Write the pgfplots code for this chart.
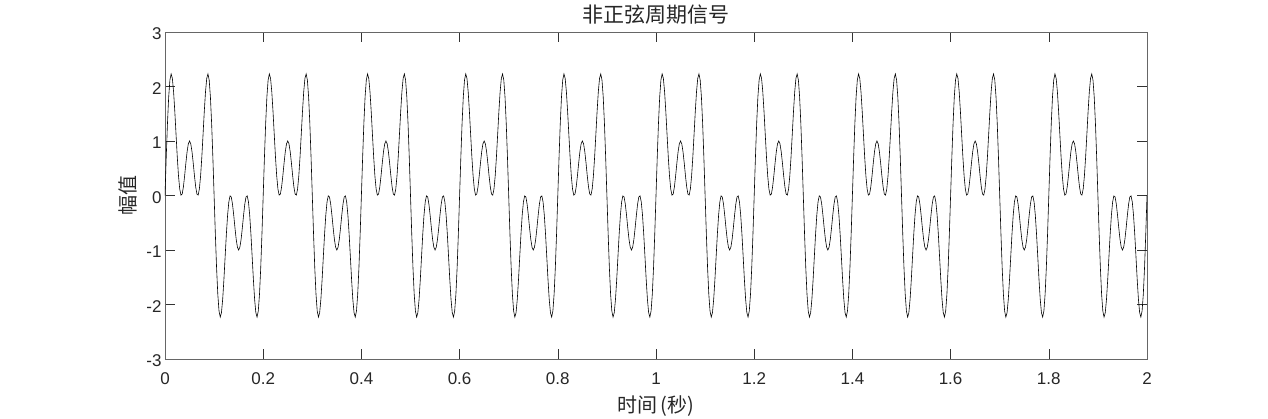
\documentclass[border=0pt]{standalone}
\usepackage{pgfplots}
\pgfplotsset{compat=1.18}
\usepackage{fontspec}
\setmainfont{Liberation Sans}
\newfontfamily\cjk{Noto Sans CJK SC}

\begin{document}
\begin{tikzpicture}
\path[use as bounding box] (-165pt,-59pt) rectangle (1103pt,359pt);
\begin{axis}[
    at={(0,0)}, anchor=south west,
    scale only axis,
    width=982pt, height=327pt,
    xmin=0, xmax=2, ymin=-3, ymax=3,
    xtick={0,0.2,0.4,0.6,0.8,1,1.2,1.4,1.6,1.8,2},
    xticklabels={0,0.2,0.4,0.6,0.8,1,1.2,1.4,1.6,1.8,2},
    ytick={-3,-2,-1,0,1,2,3},
    yticklabels={-3,-2,-1,0,1,2,3},
    tick align=inside,
    major tick length=10pt,
    tick style={black!80, line width=0.6pt},
    axis line style={black!60, line width=0.6pt},
    ticklabel style={font=\fontsize{17}{17}\selectfont, text=black!85},
    xticklabel style={yshift=-10pt},
    yticklabel style={yshift=-2pt},
    /pgf/number format/assume math mode=true,
    title={非正弦周期信号},
    title style={at={(axis description cs:0.5,1)}, anchor=base, yshift=3pt,
        font=\cjk\fontsize{21}{21}\selectfont, text=black!85},
    xlabel={时间\,(秒)},
    xlabel style={at={(axis description cs:0.5,-0.165)}, anchor=base,
        font=\cjk\fontsize{20}{20}\selectfont, text=black!85},
    ylabel={幅值},
    ylabel style={at={(axis description cs:-0.0377,0.5)}, anchor=center,
        font=\cjk\fontsize{20}{20}\selectfont, text=black!85},
]
% sampled signal, step 0.0025 s, one row per half period
\addplot[black, line width=0.6pt] coordinates {
(0.0000,0) (0.0025,0.695) (0.0050,1.318) (0.0075,1.807) (0.0100,2.118) (0.0125,2.231) (0.0150,2.149) (0.0175,1.902) (0.0200,1.539) (0.0225,1.119) (0.0250,0.707) (0.0275,0.359) (0.0300,0.118) (0.0325,0.007) (0.0350,0.027) (0.0375,0.159) (0.0400,0.363) (0.0425,0.595) (0.0450,0.804) (0.0475,0.948)
(0.0500,1) (0.0525,0.948) (0.0550,0.804) (0.0575,0.595) (0.0600,0.363) (0.0625,0.159) (0.0650,0.027) (0.0675,0.007) (0.0700,0.118) (0.0725,0.359) (0.0750,0.707) (0.0775,1.119) (0.0800,1.539) (0.0825,1.902) (0.0850,2.149) (0.0875,2.231) (0.0900,2.118) (0.0925,1.807) (0.0950,1.318) (0.0975,0.695)
(0.1000,0) (0.1025,-0.695) (0.1050,-1.318) (0.1075,-1.807) (0.1100,-2.118) (0.1125,-2.231) (0.1150,-2.149) (0.1175,-1.902) (0.1200,-1.539) (0.1225,-1.119) (0.1250,-0.707) (0.1275,-0.359) (0.1300,-0.118) (0.1325,-0.007) (0.1350,-0.027) (0.1375,-0.159) (0.1400,-0.363) (0.1425,-0.595) (0.1450,-0.804) (0.1475,-0.948)
(0.1500,-1) (0.1525,-0.948) (0.1550,-0.804) (0.1575,-0.595) (0.1600,-0.363) (0.1625,-0.159) (0.1650,-0.027) (0.1675,-0.007) (0.1700,-0.118) (0.1725,-0.359) (0.1750,-0.707) (0.1775,-1.119) (0.1800,-1.539) (0.1825,-1.902) (0.1850,-2.149) (0.1875,-2.231) (0.1900,-2.118) (0.1925,-1.807) (0.1950,-1.318) (0.1975,-0.695)
(0.2000,0) (0.2025,0.695) (0.2050,1.318) (0.2075,1.807) (0.2100,2.118) (0.2125,2.231) (0.2150,2.149) (0.2175,1.902) (0.2200,1.539) (0.2225,1.119) (0.2250,0.707) (0.2275,0.359) (0.2300,0.118) (0.2325,0.007) (0.2350,0.027) (0.2375,0.159) (0.2400,0.363) (0.2425,0.595) (0.2450,0.804) (0.2475,0.948)
(0.2500,1) (0.2525,0.948) (0.2550,0.804) (0.2575,0.595) (0.2600,0.363) (0.2625,0.159) (0.2650,0.027) (0.2675,0.007) (0.2700,0.118) (0.2725,0.359) (0.2750,0.707) (0.2775,1.119) (0.2800,1.539) (0.2825,1.902) (0.2850,2.149) (0.2875,2.231) (0.2900,2.118) (0.2925,1.807) (0.2950,1.318) (0.2975,0.695)
(0.3000,0) (0.3025,-0.695) (0.3050,-1.318) (0.3075,-1.807) (0.3100,-2.118) (0.3125,-2.231) (0.3150,-2.149) (0.3175,-1.902) (0.3200,-1.539) (0.3225,-1.119) (0.3250,-0.707) (0.3275,-0.359) (0.3300,-0.118) (0.3325,-0.007) (0.3350,-0.027) (0.3375,-0.159) (0.3400,-0.363) (0.3425,-0.595) (0.3450,-0.804) (0.3475,-0.948)
(0.3500,-1) (0.3525,-0.948) (0.3550,-0.804) (0.3575,-0.595) (0.3600,-0.363) (0.3625,-0.159) (0.3650,-0.027) (0.3675,-0.007) (0.3700,-0.118) (0.3725,-0.359) (0.3750,-0.707) (0.3775,-1.119) (0.3800,-1.539) (0.3825,-1.902) (0.3850,-2.149) (0.3875,-2.231) (0.3900,-2.118) (0.3925,-1.807) (0.3950,-1.318) (0.3975,-0.695)
(0.4000,0) (0.4025,0.695) (0.4050,1.318) (0.4075,1.807) (0.4100,2.118) (0.4125,2.231) (0.4150,2.149) (0.4175,1.902) (0.4200,1.539) (0.4225,1.119) (0.4250,0.707) (0.4275,0.359) (0.4300,0.118) (0.4325,0.007) (0.4350,0.027) (0.4375,0.159) (0.4400,0.363) (0.4425,0.595) (0.4450,0.804) (0.4475,0.948)
(0.4500,1) (0.4525,0.948) (0.4550,0.804) (0.4575,0.595) (0.4600,0.363) (0.4625,0.159) (0.4650,0.027) (0.4675,0.007) (0.4700,0.118) (0.4725,0.359) (0.4750,0.707) (0.4775,1.119) (0.4800,1.539) (0.4825,1.902) (0.4850,2.149) (0.4875,2.231) (0.4900,2.118) (0.4925,1.807) (0.4950,1.318) (0.4975,0.695)
(0.5000,0) (0.5025,-0.695) (0.5050,-1.318) (0.5075,-1.807) (0.5100,-2.118) (0.5125,-2.231) (0.5150,-2.149) (0.5175,-1.902) (0.5200,-1.539) (0.5225,-1.119) (0.5250,-0.707) (0.5275,-0.359) (0.5300,-0.118) (0.5325,-0.007) (0.5350,-0.027) (0.5375,-0.159) (0.5400,-0.363) (0.5425,-0.595) (0.5450,-0.804) (0.5475,-0.948)
(0.5500,-1) (0.5525,-0.948) (0.5550,-0.804) (0.5575,-0.595) (0.5600,-0.363) (0.5625,-0.159) (0.5650,-0.027) (0.5675,-0.007) (0.5700,-0.118) (0.5725,-0.359) (0.5750,-0.707) (0.5775,-1.119) (0.5800,-1.539) (0.5825,-1.902) (0.5850,-2.149) (0.5875,-2.231) (0.5900,-2.118) (0.5925,-1.807) (0.5950,-1.318) (0.5975,-0.695)
(0.6000,0) (0.6025,0.695) (0.6050,1.318) (0.6075,1.807) (0.6100,2.118) (0.6125,2.231) (0.6150,2.149) (0.6175,1.902) (0.6200,1.539) (0.6225,1.119) (0.6250,0.707) (0.6275,0.359) (0.6300,0.118) (0.6325,0.007) (0.6350,0.027) (0.6375,0.159) (0.6400,0.363) (0.6425,0.595) (0.6450,0.804) (0.6475,0.948)
(0.6500,1) (0.6525,0.948) (0.6550,0.804) (0.6575,0.595) (0.6600,0.363) (0.6625,0.159) (0.6650,0.027) (0.6675,0.007) (0.6700,0.118) (0.6725,0.359) (0.6750,0.707) (0.6775,1.119) (0.6800,1.539) (0.6825,1.902) (0.6850,2.149) (0.6875,2.231) (0.6900,2.118) (0.6925,1.807) (0.6950,1.318) (0.6975,0.695)
(0.7000,0) (0.7025,-0.695) (0.7050,-1.318) (0.7075,-1.807) (0.7100,-2.118) (0.7125,-2.231) (0.7150,-2.149) (0.7175,-1.902) (0.7200,-1.539) (0.7225,-1.119) (0.7250,-0.707) (0.7275,-0.359) (0.7300,-0.118) (0.7325,-0.007) (0.7350,-0.027) (0.7375,-0.159) (0.7400,-0.363) (0.7425,-0.595) (0.7450,-0.804) (0.7475,-0.948)
(0.7500,-1) (0.7525,-0.948) (0.7550,-0.804) (0.7575,-0.595) (0.7600,-0.363) (0.7625,-0.159) (0.7650,-0.027) (0.7675,-0.007) (0.7700,-0.118) (0.7725,-0.359) (0.7750,-0.707) (0.7775,-1.119) (0.7800,-1.539) (0.7825,-1.902) (0.7850,-2.149) (0.7875,-2.231) (0.7900,-2.118) (0.7925,-1.807) (0.7950,-1.318) (0.7975,-0.695)
(0.8000,0) (0.8025,0.695) (0.8050,1.318) (0.8075,1.807) (0.8100,2.118) (0.8125,2.231) (0.8150,2.149) (0.8175,1.902) (0.8200,1.539) (0.8225,1.119) (0.8250,0.707) (0.8275,0.359) (0.8300,0.118) (0.8325,0.007) (0.8350,0.027) (0.8375,0.159) (0.8400,0.363) (0.8425,0.595) (0.8450,0.804) (0.8475,0.948)
(0.8500,1) (0.8525,0.948) (0.8550,0.804) (0.8575,0.595) (0.8600,0.363) (0.8625,0.159) (0.8650,0.027) (0.8675,0.007) (0.8700,0.118) (0.8725,0.359) (0.8750,0.707) (0.8775,1.119) (0.8800,1.539) (0.8825,1.902) (0.8850,2.149) (0.8875,2.231) (0.8900,2.118) (0.8925,1.807) (0.8950,1.318) (0.8975,0.695)
(0.9000,0) (0.9025,-0.695) (0.9050,-1.318) (0.9075,-1.807) (0.9100,-2.118) (0.9125,-2.231) (0.9150,-2.149) (0.9175,-1.902) (0.9200,-1.539) (0.9225,-1.119) (0.9250,-0.707) (0.9275,-0.359) (0.9300,-0.118) (0.9325,-0.007) (0.9350,-0.027) (0.9375,-0.159) (0.9400,-0.363) (0.9425,-0.595) (0.9450,-0.804) (0.9475,-0.948)
(0.9500,-1) (0.9525,-0.948) (0.9550,-0.804) (0.9575,-0.595) (0.9600,-0.363) (0.9625,-0.159) (0.9650,-0.027) (0.9675,-0.007) (0.9700,-0.118) (0.9725,-0.359) (0.9750,-0.707) (0.9775,-1.119) (0.9800,-1.539) (0.9825,-1.902) (0.9850,-2.149) (0.9875,-2.231) (0.9900,-2.118) (0.9925,-1.807) (0.9950,-1.318) (0.9975,-0.695)
(1.0000,0) (1.0025,0.695) (1.0050,1.318) (1.0075,1.807) (1.0100,2.118) (1.0125,2.231) (1.0150,2.149) (1.0175,1.902) (1.0200,1.539) (1.0225,1.119) (1.0250,0.707) (1.0275,0.359) (1.0300,0.118) (1.0325,0.007) (1.0350,0.027) (1.0375,0.159) (1.0400,0.363) (1.0425,0.595) (1.0450,0.804) (1.0475,0.948)
(1.0500,1) (1.0525,0.948) (1.0550,0.804) (1.0575,0.595) (1.0600,0.363) (1.0625,0.159) (1.0650,0.027) (1.0675,0.007) (1.0700,0.118) (1.0725,0.359) (1.0750,0.707) (1.0775,1.119) (1.0800,1.539) (1.0825,1.902) (1.0850,2.149) (1.0875,2.231) (1.0900,2.118) (1.0925,1.807) (1.0950,1.318) (1.0975,0.695)
(1.1000,0) (1.1025,-0.695) (1.1050,-1.318) (1.1075,-1.807) (1.1100,-2.118) (1.1125,-2.231) (1.1150,-2.149) (1.1175,-1.902) (1.1200,-1.539) (1.1225,-1.119) (1.1250,-0.707) (1.1275,-0.359) (1.1300,-0.118) (1.1325,-0.007) (1.1350,-0.027) (1.1375,-0.159) (1.1400,-0.363) (1.1425,-0.595) (1.1450,-0.804) (1.1475,-0.948)
(1.1500,-1) (1.1525,-0.948) (1.1550,-0.804) (1.1575,-0.595) (1.1600,-0.363) (1.1625,-0.159) (1.1650,-0.027) (1.1675,-0.007) (1.1700,-0.118) (1.1725,-0.359) (1.1750,-0.707) (1.1775,-1.119) (1.1800,-1.539) (1.1825,-1.902) (1.1850,-2.149) (1.1875,-2.231) (1.1900,-2.118) (1.1925,-1.807) (1.1950,-1.318) (1.1975,-0.695)
(1.2000,0) (1.2025,0.695) (1.2050,1.318) (1.2075,1.807) (1.2100,2.118) (1.2125,2.231) (1.2150,2.149) (1.2175,1.902) (1.2200,1.539) (1.2225,1.119) (1.2250,0.707) (1.2275,0.359) (1.2300,0.118) (1.2325,0.007) (1.2350,0.027) (1.2375,0.159) (1.2400,0.363) (1.2425,0.595) (1.2450,0.804) (1.2475,0.948)
(1.2500,1) (1.2525,0.948) (1.2550,0.804) (1.2575,0.595) (1.2600,0.363) (1.2625,0.159) (1.2650,0.027) (1.2675,0.007) (1.2700,0.118) (1.2725,0.359) (1.2750,0.707) (1.2775,1.119) (1.2800,1.539) (1.2825,1.902) (1.2850,2.149) (1.2875,2.231) (1.2900,2.118) (1.2925,1.807) (1.2950,1.318) (1.2975,0.695)
(1.3000,0) (1.3025,-0.695) (1.3050,-1.318) (1.3075,-1.807) (1.3100,-2.118) (1.3125,-2.231) (1.3150,-2.149) (1.3175,-1.902) (1.3200,-1.539) (1.3225,-1.119) (1.3250,-0.707) (1.3275,-0.359) (1.3300,-0.118) (1.3325,-0.007) (1.3350,-0.027) (1.3375,-0.159) (1.3400,-0.363) (1.3425,-0.595) (1.3450,-0.804) (1.3475,-0.948)
(1.3500,-1) (1.3525,-0.948) (1.3550,-0.804) (1.3575,-0.595) (1.3600,-0.363) (1.3625,-0.159) (1.3650,-0.027) (1.3675,-0.007) (1.3700,-0.118) (1.3725,-0.359) (1.3750,-0.707) (1.3775,-1.119) (1.3800,-1.539) (1.3825,-1.902) (1.3850,-2.149) (1.3875,-2.231) (1.3900,-2.118) (1.3925,-1.807) (1.3950,-1.318) (1.3975,-0.695)
(1.4000,0) (1.4025,0.695) (1.4050,1.318) (1.4075,1.807) (1.4100,2.118) (1.4125,2.231) (1.4150,2.149) (1.4175,1.902) (1.4200,1.539) (1.4225,1.119) (1.4250,0.707) (1.4275,0.359) (1.4300,0.118) (1.4325,0.007) (1.4350,0.027) (1.4375,0.159) (1.4400,0.363) (1.4425,0.595) (1.4450,0.804) (1.4475,0.948)
(1.4500,1) (1.4525,0.948) (1.4550,0.804) (1.4575,0.595) (1.4600,0.363) (1.4625,0.159) (1.4650,0.027) (1.4675,0.007) (1.4700,0.118) (1.4725,0.359) (1.4750,0.707) (1.4775,1.119) (1.4800,1.539) (1.4825,1.902) (1.4850,2.149) (1.4875,2.231) (1.4900,2.118) (1.4925,1.807) (1.4950,1.318) (1.4975,0.695)
(1.5000,0) (1.5025,-0.695) (1.5050,-1.318) (1.5075,-1.807) (1.5100,-2.118) (1.5125,-2.231) (1.5150,-2.149) (1.5175,-1.902) (1.5200,-1.539) (1.5225,-1.119) (1.5250,-0.707) (1.5275,-0.359) (1.5300,-0.118) (1.5325,-0.007) (1.5350,-0.027) (1.5375,-0.159) (1.5400,-0.363) (1.5425,-0.595) (1.5450,-0.804) (1.5475,-0.948)
(1.5500,-1) (1.5525,-0.948) (1.5550,-0.804) (1.5575,-0.595) (1.5600,-0.363) (1.5625,-0.159) (1.5650,-0.027) (1.5675,-0.007) (1.5700,-0.118) (1.5725,-0.359) (1.5750,-0.707) (1.5775,-1.119) (1.5800,-1.539) (1.5825,-1.902) (1.5850,-2.149) (1.5875,-2.231) (1.5900,-2.118) (1.5925,-1.807) (1.5950,-1.318) (1.5975,-0.695)
(1.6000,0) (1.6025,0.695) (1.6050,1.318) (1.6075,1.807) (1.6100,2.118) (1.6125,2.231) (1.6150,2.149) (1.6175,1.902) (1.6200,1.539) (1.6225,1.119) (1.6250,0.707) (1.6275,0.359) (1.6300,0.118) (1.6325,0.007) (1.6350,0.027) (1.6375,0.159) (1.6400,0.363) (1.6425,0.595) (1.6450,0.804) (1.6475,0.948)
(1.6500,1) (1.6525,0.948) (1.6550,0.804) (1.6575,0.595) (1.6600,0.363) (1.6625,0.159) (1.6650,0.027) (1.6675,0.007) (1.6700,0.118) (1.6725,0.359) (1.6750,0.707) (1.6775,1.119) (1.6800,1.539) (1.6825,1.902) (1.6850,2.149) (1.6875,2.231) (1.6900,2.118) (1.6925,1.807) (1.6950,1.318) (1.6975,0.695)
(1.7000,0) (1.7025,-0.695) (1.7050,-1.318) (1.7075,-1.807) (1.7100,-2.118) (1.7125,-2.231) (1.7150,-2.149) (1.7175,-1.902) (1.7200,-1.539) (1.7225,-1.119) (1.7250,-0.707) (1.7275,-0.359) (1.7300,-0.118) (1.7325,-0.007) (1.7350,-0.027) (1.7375,-0.159) (1.7400,-0.363) (1.7425,-0.595) (1.7450,-0.804) (1.7475,-0.948)
(1.7500,-1) (1.7525,-0.948) (1.7550,-0.804) (1.7575,-0.595) (1.7600,-0.363) (1.7625,-0.159) (1.7650,-0.027) (1.7675,-0.007) (1.7700,-0.118) (1.7725,-0.359) (1.7750,-0.707) (1.7775,-1.119) (1.7800,-1.539) (1.7825,-1.902) (1.7850,-2.149) (1.7875,-2.231) (1.7900,-2.118) (1.7925,-1.807) (1.7950,-1.318) (1.7975,-0.695)
(1.8000,0) (1.8025,0.695) (1.8050,1.318) (1.8075,1.807) (1.8100,2.118) (1.8125,2.231) (1.8150,2.149) (1.8175,1.902) (1.8200,1.539) (1.8225,1.119) (1.8250,0.707) (1.8275,0.359) (1.8300,0.118) (1.8325,0.007) (1.8350,0.027) (1.8375,0.159) (1.8400,0.363) (1.8425,0.595) (1.8450,0.804) (1.8475,0.948)
(1.8500,1) (1.8525,0.948) (1.8550,0.804) (1.8575,0.595) (1.8600,0.363) (1.8625,0.159) (1.8650,0.027) (1.8675,0.007) (1.8700,0.118) (1.8725,0.359) (1.8750,0.707) (1.8775,1.119) (1.8800,1.539) (1.8825,1.902) (1.8850,2.149) (1.8875,2.231) (1.8900,2.118) (1.8925,1.807) (1.8950,1.318) (1.8975,0.695)
(1.9000,0) (1.9025,-0.695) (1.9050,-1.318) (1.9075,-1.807) (1.9100,-2.118) (1.9125,-2.231) (1.9150,-2.149) (1.9175,-1.902) (1.9200,-1.539) (1.9225,-1.119) (1.9250,-0.707) (1.9275,-0.359) (1.9300,-0.118) (1.9325,-0.007) (1.9350,-0.027) (1.9375,-0.159) (1.9400,-0.363) (1.9425,-0.595) (1.9450,-0.804) (1.9475,-0.948)
(1.9500,-1) (1.9525,-0.948) (1.9550,-0.804) (1.9575,-0.595) (1.9600,-0.363) (1.9625,-0.159) (1.9650,-0.027) (1.9675,-0.007) (1.9700,-0.118) (1.9725,-0.359) (1.9750,-0.707) (1.9775,-1.119) (1.9800,-1.539) (1.9825,-1.902) (1.9850,-2.149) (1.9875,-2.231) (1.9900,-2.118) (1.9925,-1.807) (1.9950,-1.318) (1.9975,-0.695)
(2.0000,0)
};
\end{axis}
\end{tikzpicture}
\end{document}
